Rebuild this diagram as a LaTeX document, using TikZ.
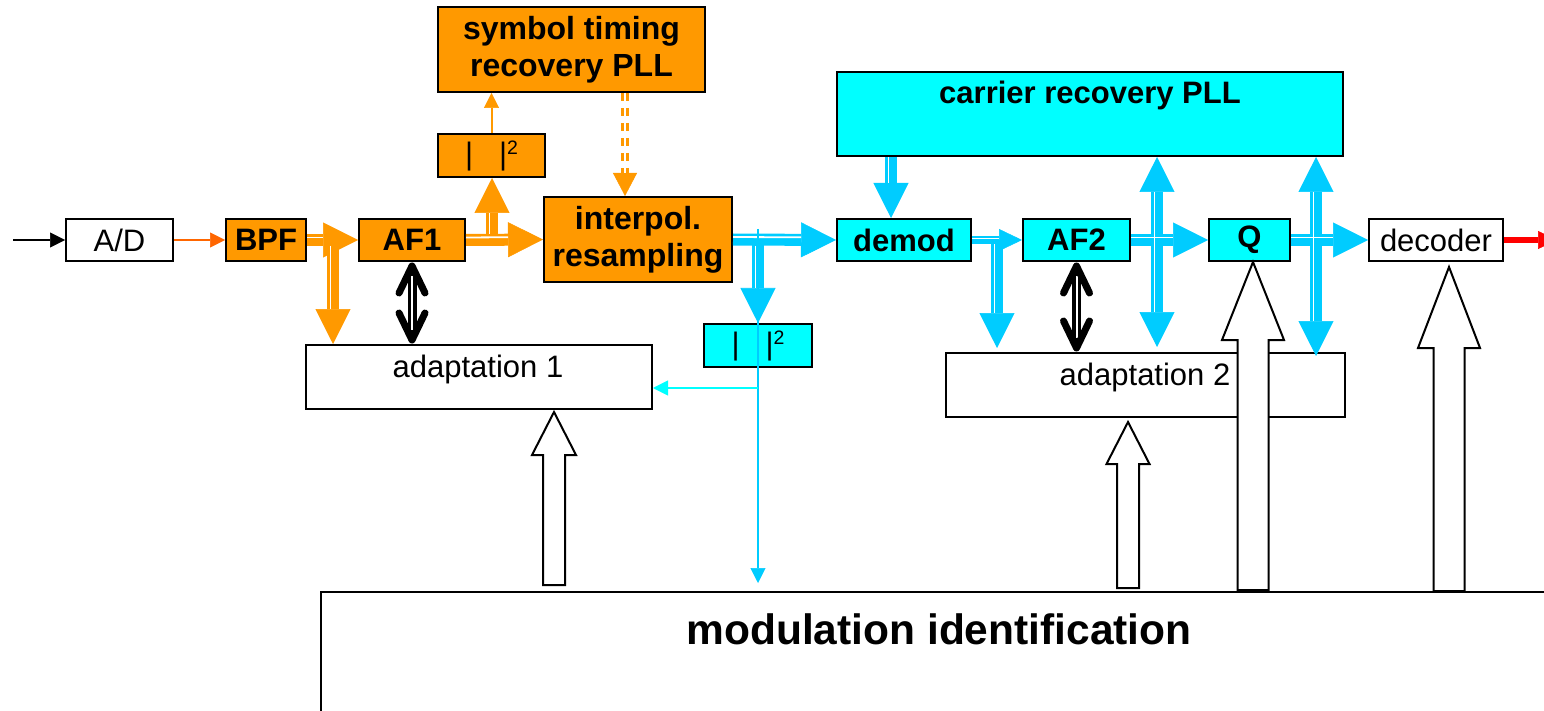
\documentclass[tikz,border=0pt]{standalone}
\usepackage{fontspec}
\setmainfont{Liberation Sans}
\usetikzlibrary{arrows.meta,calc}
\definecolor{orgfill}{HTML}{FF9900}
\definecolor{cyanfill}{HTML}{00FFFF}
\definecolor{skyarrow}{HTML}{00CCFF}
\definecolor{redorange}{HTML}{FF6600}
% |  |^2 label
\newcommand\absq{|\hspace{26pt}|\raisebox{10pt}{\fontsize{19.5}{20}\selectfont 2}}
% hollow block arrow pointing up: #1 x, #2 foot, #3 tip, #4 head length, #5 head half-width, #6 shaft half-width
\newcommand\hollowup[6]{%
  \path[hollow] let \p1=#2, \p2=#3 in
    (#1pt-#6,\y1) -- (#1pt-#6,\y2-#4) -- (#1pt-#5,\y2-#4) -- (#1pt,\y2)
    -- (#1pt+#5,\y2-#4) -- (#1pt+#6,\y2-#4) -- (#1pt+#6,\y1) -- cycle;}
\begin{document}
\begin{tikzpicture}[x=1pt,y=-1pt,
  box/.style={draw=black,line width=2pt,inner sep=0pt,minimum height=42pt},
  obox/.style={box,fill=orgfill},
  cbox/.style={box,fill=cyanfill},
  wbox/.style={box,fill=white},
  rg/.style={font=\fontsize{31}{36}\selectfont},
  bd/.style={font=\bfseries\fontsize{31}{36}\selectfont},
  big/.style={font=\bfseries\fontsize{32}{37}\selectfont,align=center},
  oflow/.style={draw=orgfill,line width=12pt,-{Triangle[length=35pt,width=35pt,line width=0.5pt]}},
  cflow/.style={draw=skyarrow,line width=12pt,-{Triangle[length=35pt,width=35pt,line width=0.5pt]}},
  cboth/.style={draw=skyarrow,line width=12pt,{Triangle[length=35pt,width=35pt,line width=0.5pt]}-{Triangle[length=35pt,width=35pt,line width=0.5pt]}},
  hstripe/.style={draw=white,line width=1.8pt,transform canvas={yshift=2.5pt}},
  vstripe/.style={draw=white,line width=1.8pt,transform canvas={xshift=-2.5pt}},
  thinarrow/.style={line width=2pt,-{Triangle[length=15pt,width=15pt,line width=0.5pt]}},
  hollow/.style={draw=black,line width=2pt,fill=white,line join=miter},
  vhead/.style={draw=black,line width=7pt,line cap=round,line join=round},
  bshaft/.style={draw=black,line width=9pt},
  bstripe/.style={draw=white,line width=2pt}]

\fill[white] (0,0) rectangle (1544,711);
\useasboundingbox (0,0) rectangle (1544,711);

% blocks
\node[wbox,rg,minimum width=107pt] (ad) at (119.5,240) {A/D};
\node[obox,bd,minimum width=80pt] (bpf) at (266,240) {BPF};
\node[obox,bd,minimum width=106pt] (af1) at (412,240) {AF1};
\node[obox,big,minimum width=267pt,minimum height=85pt] (stp) at (571.5,49.5) {symbol timing\\recovery PLL};
\node[obox,rg,minimum width=107pt,minimum height=43pt] (abs1) at (491.5,155.5) {\absq};
\node[obox,big,minimum width=188pt,minimum height=85pt] (ip) at (638,239.5) {interpol.\\resampling};
\node[cbox,rg,minimum width=108pt,minimum height=43pt] (abs2) at (758,345.5) {\absq};
\node[cbox,minimum width=506pt,minimum height=84pt] (crp) at (1090,114) {};
\node[bd,anchor=base] (crpt) at (1090,104) {carrier recovery PLL};
\node[cbox,bd,minimum width=134pt] (dm) at (904,240) {demod};
\node[cbox,bd,minimum width=107pt] (af2) at (1076.5,240) {AF2};
\node[cbox,bd,minimum width=81pt] (q) at (1249.5,240) {Q};
\node[wbox,rg,minimum width=134pt] (dec) at (1436,240) {decoder};
\node[wbox,minimum width=346pt,minimum height=64pt] (ad1) at (479,377) {};
\node[rg,anchor=base] (ad1t) at (478,377) {adaptation 1};
\node[wbox,minimum width=399pt,minimum height=64pt] (ad2) at (1145.5,385) {};
\node[rg,anchor=base] (ad2t) at (1145,385) {adaptation 2};
\node[wbox,minimum width=1236pt,minimum height=130pt] (modid) at (939,657) {};
\node[font=\bfseries\fontsize{42.5}{48}\selectfont,anchor=base] (modt) at (939,644) {modulation identification};

% branch points and vertical guides
\coordinate (in) at (13,240);
\coordinate (out) at (1557,240);
\coordinate (j1) at (333,240);
\coordinate (j2) at (492,240);
\coordinate (j3) at (625,0);
\coordinate (j4) at (758,240);
\coordinate (j5) at (997,240);
\coordinate (g1) at (891,0);
\coordinate (g2) at (1157,0);
\coordinate (g3) at (1316,0);
\coordinate (c1) at (758,229);
\coordinate (c2) at (758,388);

% thin signal arrows
\draw[thinarrow] (in) -- (ad.west);
\draw[thinarrow,draw=redorange] (ad.east) -- (bpf.west);
\draw[thinarrow,draw=orgfill] (abs1.north) -- (abs1.north |- stp.south);
\draw[draw=red,line width=6pt,-{Triangle[length=19pt,width=18pt,line width=0.5pt]}] (dec.east) -- (out);

% timing feedback (dashed double line)
\draw[draw=orgfill,line width=8pt,dash pattern=on 8pt off 7pt,-{Triangle[length=23pt,width=24pt,line width=0.5pt]}] (j3 |- stp.south) -- (j3 |- ip.north);
\draw[draw=white,line width=2pt,shorten >=23pt] (j3 |- stp.south) -- (j3 |- ip.north);

% wide compound arrows: bodies
\draw[oflow] (bpf.east) -- (af1.west);
\draw[oflow] (j1) -- (j1 |- ad1.north);
\draw[oflow] (af1.east) -- (ip.west);
\draw[oflow] (j2) -- (j2 |- abs1.south);
\draw[cflow] (ip.east) -- (dm.west);
\draw[cflow] (j4) -- (abs2.north);
\draw[cflow] (g1 |- crp.south) -- (g1 |- dm.north);
\draw[cflow,line width=8pt,-{Triangle[length=23pt,width=22pt,line width=0.5pt]}] (dm.east) -- (af2.west);
\draw[cflow,shorten >=4pt] (j5) -- (j5 |- ad2.north);
\draw[cflow] (af2.east) -- (q.west);
\draw[cflow] (q.east) -- (dec.west);
\draw[cboth,shorten >=5pt] (g2 |- crp.south) -- (g2 |- ad2.north);
\draw[cboth,shorten >=-4pt] (g3 |- crp.south) -- (g3 |- ad2.north);

% wide compound arrows: inner white lines
\draw[hstripe,shorten >=35pt] (bpf.east) -- (af1.west);
\draw[vstripe,shorten <=6pt,shorten >=35pt] (j1) -- (j1 |- ad1.north);
\draw[hstripe,shorten >=35pt] (af1.east) -- (ip.west);
\draw[vstripe,shorten <=6pt,shorten >=35pt] (j2) -- (j2 |- abs1.south);
\draw[hstripe,shorten >=35pt] (ip.east) -- (dm.west);
\draw[vstripe,shorten <=6pt,shorten >=35pt] (j4) -- (abs2.north);
\draw[vstripe,shorten >=35pt] (g1 |- crp.south) -- (g1 |- dm.north);
\draw[draw=white,line width=1.5pt,transform canvas={yshift=1.5pt},shorten >=23pt] (dm.east) -- (af2.west);
\draw[vstripe,shorten <=4pt,shorten >=39pt] (j5) -- (j5 |- ad2.north);
\draw[hstripe,shorten >=35pt] (af2.east) -- (q.west);
\draw[hstripe,shorten >=35pt] (q.east) -- (dec.west);
\draw[vstripe,shorten <=35pt,shorten >=40pt] (g2 |- crp.south) -- (g2 |- ad2.north);
\draw[vstripe,shorten <=35pt,shorten >=31pt] (g3 |- crp.south) -- (g3 |- ad2.north);

% magnitude feed to adaptation 1 and identification
\draw[thinarrow,draw=skyarrow,shorten >=8pt] (c1) -- (c1 |- modid.north);
\draw[thinarrow,draw=cyanfill] (c2) -- (c2 -| ad1.east);

% filter coefficient exchange (black double-headed arrows)
\draw[bshaft] ($(af1.south)+(0,6)$) -- ($(af1.south |- ad1.north)+(0,-6)$);
\draw[bstripe] ($(af1.south)+(0,14)$) -- ($(af1.south |- ad1.north)+(0,-14)$);
\draw[vhead] ($(af1.south)+(-13,31)$) -- ($(af1.south)+(0,4)$) -- ($(af1.south)+(13,31)$);
\draw[vhead] ($(af1.south |- ad1.north)+(-13,-31)$) -- ($(af1.south |- ad1.north)+(0,-4)$) -- ($(af1.south |- ad1.north)+(13,-31)$);
\draw[bshaft] ($(af2.south)+(0,6)$) -- ($(af2.south |- ad2.north)+(0,-6)$);
\draw[bstripe] ($(af2.south)+(0,14)$) -- ($(af2.south |- ad2.north)+(0,-14)$);
\draw[vhead] ($(af2.south)+(-13,31)$) -- ($(af2.south)+(0,4)$) -- ($(af2.south)+(13,31)$);
\draw[vhead] ($(af2.south |- ad2.north)+(-13,-31)$) -- ($(af2.south |- ad2.north)+(0,-4)$) -- ($(af2.south |- ad2.north)+(13,-31)$);

% control from modulation identification (hollow block arrows)
\hollowup{554}{($(modid.north)+(0,-6)$)}{($(ad1.south)+(0,2)$)}{43pt}{22pt}{11pt}
\hollowup{1128}{($(modid.north)+(0,-3)$)}{($(ad2.south)+(0,4)$)}{42pt}{21.5pt}{11pt}
\hollowup{1253}{($(modid.north)+(0,-1)$)}{(q.south)}{78pt}{31pt}{15.5pt}
\hollowup{1449}{(modid.north)}{($(dec.south)+(0,5)$)}{81pt}{31pt}{15.5pt}
\end{tikzpicture}
\end{document}
